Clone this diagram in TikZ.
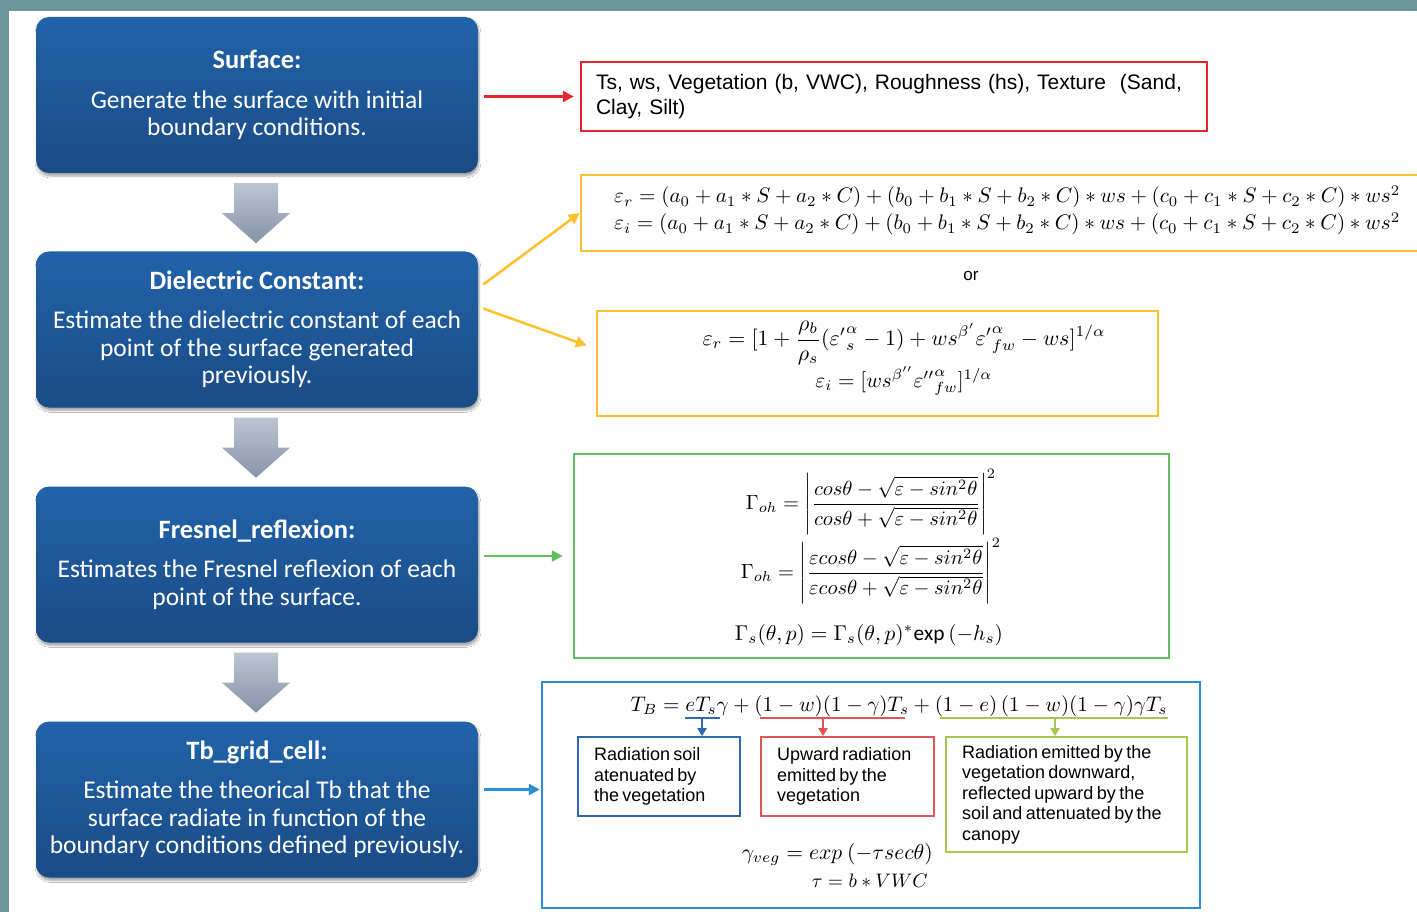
\documentclass[tikz,border=0pt]{standalone}
\usepackage{fontspec}
\usepackage{amsmath}
\usepackage{graphicx}
\setmainfont{Carlito}
\newfontfamily\arialf{Liberation Sans}
\usetikzlibrary{arrows.meta,shadows.blur,calc}
\definecolor{frame}{HTML}{6E969A}
\definecolor{btop}{HTML}{2163AA}
\definecolor{bbot}{HTML}{1B4B85}
\definecolor{gtop}{HTML}{BCC6D3}
\definecolor{gbot}{HTML}{8592A8}
\definecolor{cred}{HTML}{E3262D}
\definecolor{cyel}{HTML}{FDC12E}
\definecolor{cgrn}{HTML}{62BE5E}
\definecolor{cblu}{HTML}{2A8DD6}
\definecolor{sblu}{HTML}{2E68AE}
\definecolor{sred}{HTML}{E25554}
\definecolor{sgrn}{HTML}{A6C84C}
\newcommand\boxttl[1]{{\fontsize{26.5}{27.5}\selectfont\bfseries #1}}
\newcommand\tightsp{\spaceskip=3.4pt plus 1pt minus 0.5pt\relax}
\begin{document}
\begin{tikzpicture}[x=1pt,y=-1pt,
  stepbox/.style={rounded corners=13pt, top color=btop, bottom color=bbot, draw=none,
    minimum width=442pt, minimum height=156pt, text=white, align=center,
    font=\fontsize{25.5}{27.5}\selectfont,
    blur shadow={shadow xshift=1pt, shadow yshift=-3pt, shadow opacity=35, shadow blur steps=6}},
  blockarr/.style={top color=gtop, bottom color=gbot, draw=none},
  rbox/.style={draw, line width=2.5pt, inner sep=0pt},
  sbox/.style={draw, line width=1.7pt, inner xsep=16pt, inner ysep=0pt, align=left,
    font=\arialf\fontsize{18}{20.5}\selectfont},
  conn/.style={line width=2.5pt, -{Triangle[length=11pt,width=11pt]}},
  subarr/.style={line width=2pt, -{Triangle[length=8pt,width=9pt]}},
  uline/.style={line width=2pt},
  eq/.style={inner sep=0pt}
]
\useasboundingbox (0,0) rectangle (1417,912);
\clip (0,0) rectangle (1417,912);
\fill[white] (0,0) rectangle (1417,912);
\fill[frame] (0,0) rectangle (1417,11);
\fill[frame] (0,0) rectangle (9,912);

% left process boxes
\node[stepbox] (s1) at (257,95) {\boxttl{Surface:}\\[12pt]Generate the surface with initial\\boundary conditions.};
\node[stepbox] (s2) at (257,329.5) {\boxttl{Dielectric Constant:}\\[12pt]Estimate the dielectric constant of each\\point of the surface generated\\previously.};
\node[stepbox] (s3) at (257,564.5) {\boxttl{Fresnel\_reflexion:}\\[12pt]Estimates the Fresnel reflexion of each\\point of the surface.};
\node[stepbox] (s4) at (257,799.5) {\boxttl{Tb\_grid\_cell:}\\[12pt]Estimate the theorical Tb that the\\surface radiate in function of the\\boundary conditions defined previously.};

% block arrows
\foreach \a in {s1,s2,s3}{
  \path[blockarr, shift={(\a.south)}] (-23,10) -- (21,10) -- (21,40) -- (33,40) -- (-1,70) -- (-35,40) -- (-23,40) -- cycle;
}

% right boxes
\node[rbox, draw=cred, minimum width=626pt, minimum height=69pt, inner xsep=15pt, text width=596pt, align=left,
  font=\arialf\fontsize{21}{25}\selectfont] (rb) at (894,96.5)
  {Ts, ws, Vegetation (b, VWC), Roughness (hs), Texture\ \ (Sand,\\Clay, Silt)};
\node[rbox, draw=cyel, minimum width=860pt, minimum height=76pt] (yb1) at (1011,213) {};
\node[eq, anchor=base west] (ey1) at (614,203) {\resizebox{786pt}{!}{$\varepsilon_r = (a_0 + a_1 * S + a_2 * C) + (b_0 + b_1 * S + b_2 * C) * ws + (c_0 + c_1 * S + c_2 * C) * ws^2$}};
\node[eq, anchor=base west] (ey2) at (614,230) {\resizebox{786pt}{!}{$\varepsilon_i = (a_0 + a_1 * S + a_2 * C) + (b_0 + b_1 * S + b_2 * C) * ws + (c_0 + c_1 * S + c_2 * C) * ws^2$}};
\node[font=\arialf\fontsize{17}{20}\selectfont] (or) at (971,276) {or};

\node[rbox, draw=cyel, minimum width=561pt, minimum height=105pt] (yb2) at (877.5,363.5) {};
\node[eq] (eb1) at (904,343) {\resizebox{403pt}{!}{$\displaystyle \varepsilon_r = [1 + \frac{\rho_b}{\rho_s}({\varepsilon'}^{\alpha}_{s} - 1) + ws^{\beta'}{\varepsilon'}^{\alpha}_{fw} - ws]^{1/\alpha}$}};
\node[eq, anchor=base] (eb2) at (904,387) {\resizebox{177pt}{!}{$\varepsilon_i = [ws^{\beta''}{\varepsilon''}^{\alpha}_{fw}]^{1/\alpha}$}};

\node[rbox, draw=cgrn, minimum width=595pt, minimum height=204pt] (gb) at (871.5,556) {};
\node[eq] (eg1) at (871,502) {\resizebox{250pt}{!}{$\displaystyle \Gamma_{oh} = \left|\frac{cos\theta - \sqrt{\varepsilon - sin^2\theta}}{cos\theta + \sqrt{\varepsilon - sin^2\theta}}\right|^2$}};
\node[eq] (eg2) at (871,571) {\resizebox{260pt}{!}{$\displaystyle \Gamma_{oh} = \left|\frac{\varepsilon cos\theta - \sqrt{\varepsilon - sin^2\theta}}{\varepsilon cos\theta + \sqrt{\varepsilon - sin^2\theta}}\right|^2$}};
\node[eq, anchor=base] (eg3) at (869,640) {\resizebox{268pt}{!}{$\Gamma_s(\theta,p) = \Gamma_s(\theta,p)^{*}\mathrm{exp}\,(-h_s)$}};

\node[rbox, draw=cblu, minimum width=658pt, minimum height=226pt] (bb) at (871,795) {};
\node[eq, anchor=base] (tb) at (899,711) {\resizebox{537pt}{!}{$T_B = eT_s\gamma + (1 - w)(1 - \gamma)T_s + (1 - e)\,(1 - w)(1 - \gamma)\gamma T_s$}};

\node[sbox, draw=sblu, minimum width=162pt, minimum height=79pt, text width=130pt] (sb1) at (659,776.5)
  {\tightsp Radiation soil\\atenuated by\\the vegetation};
\node[sbox, draw=sred, minimum width=173pt, minimum height=79pt, text width=141pt] (sb2) at (847.5,776.5)
  {\tightsp Upward radiation\\emitted by the\\vegetation};
\node[sbox, draw=sgrn, minimum width=241pt, minimum height=115pt, text width=209pt] (sb3) at (1066.5,794.5)
  {\tightsp Radiation emitted by the\\vegetation downward,\\reflected upward by the\\soil and attenuated by the\\canopy};

\draw[uline, sblu] (685,718) -- (720,718);
\draw[uline, sred] (760,718) -- (905,718);
\draw[uline, sgrn] (940,718) -- (1168,718);
\coordinate (u1) at (702,718);
\coordinate (u2) at (823,718);
\coordinate (u3) at (1055,718);
\draw[subarr, sblu] (u1) -- (u1 |- sb1.north);
\draw[subarr, sred] (u2) -- (u2 |- sb2.north);
\draw[subarr, sgrn] (u3) -- (u3 |- sb3.north);

\node[eq, anchor=base east] (gv) at (933,859) {\resizebox{191pt}{!}{$\gamma_{veg} = exp\ (-\tau sec\theta)$}};
\node[eq, anchor=base east] (tau) at (928,887) {\resizebox{116pt}{!}{$\tau = b * VWC$}};

% connectors
\draw[conn, cred, shorten <=6pt, shorten >=6pt] (s1.east |- rb.west) -- (rb.west);
\draw[conn, cyel] ($(s2.east)+(5,-45)$) -- (yb1.west);
\draw[conn, cyel] ($(s2.east)+(5,-21)$) -- ($(yb2.west)+(-9,-18)$);
\draw[conn, cgrn, shorten <=6pt, shorten >=10pt] (s3.east |- gb.west) -- (gb.west);
\coordinate (b4) at ($(s4.east)+(6,-10)$);
\draw[conn, cblu, shorten >=1pt] (b4) -- (b4 -| bb.west);
\end{tikzpicture}
\end{document}
